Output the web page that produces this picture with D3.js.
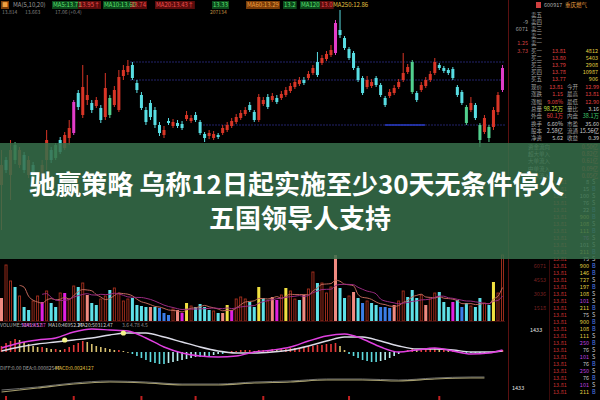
<!DOCTYPE html>
<html><head><meta charset="utf-8">
<script src="https://cdn.jsdelivr.net/npm/d3@7"></script>
<style>html,body{margin:0;padding:0;background:#000;overflow:hidden}</style>
</head><body><svg id="c" width="600" height="400"></svg>
<script>
// ---------- DATA ----------
const opens = [13.15,13.40,13.25,13.55,13.35,13.45,13.25,13.35,13.25,13.20,
13.40,13.50,13.55,13.60,13.52,13.62,13.67,14.07,13.85,14.00,
13.97,13.94,13.92,13.83,14.02,13.95,13.90,14.24,14.28,14.35,
14.17,14.05,13.90,13.97,13.90,13.75,13.65,13.79,13.74,13.77,
13.76,13.81,13.79,13.85,13.78,13.66,13.64,13.62,13.65,13.67,
13.70,13.74,13.78,13.82,13.86,13.95,13.88,13.80,13.96,14.03,
14.00,14.02,14.02,14.05,14.09,14.13,14.16,14.20,14.22,14.27,
14.38,14.37,14.41,14.45,14.47,14.70,14.62,14.51,14.47,14.32,
14.22,14.13,14.14,14.22,14.15,14.02,14.04,14.07,14.13,14.20,
14.28,14.38,14.07,14.10,14.14,14.20,14.27,14.35,14.32,14.30,
14.31,14.13,14.08,13.93,13.90,13.95,13.75,13.68,13.73,13.73,
13.88,14.10];
const closes = [13.35,13.30,13.50,13.40,13.50,13.30,13.40,13.20,13.10,13.35,
13.60,13.40,13.42,13.48,13.65,13.72,13.98,13.93,14.13,14.05,
13.90,14.00,13.80,14.12,13.85,14.10,14.23,14.30,14.34,14.22,
14.10,13.92,13.78,13.83,13.75,13.67,13.70,13.77,13.78,13.74,
13.72,13.85,13.82,13.80,13.67,13.62,13.67,13.66,13.63,13.72,
13.75,13.79,13.83,13.87,13.90,13.90,13.80,14.03,14.00,13.93,
14.04,13.98,14.06,14.10,14.14,14.18,14.20,14.17,14.26,14.32,
14.25,14.42,14.46,14.50,14.77,14.65,14.52,14.42,14.32,14.20,
14.07,14.20,14.18,14.15,14.05,13.95,14.08,14.12,14.18,14.27,
14.33,14.08,14.00,14.15,14.20,14.26,14.38,14.32,14.29,14.27,
14.22,14.05,13.97,13.77,13.97,13.82,13.60,13.82,13.62,13.90,
14.05,14.32];
const highs = [13.50,13.43,13.60,13.58,13.53,13.48,13.44,13.38,13.28,13.40,
13.70,13.53,13.57,13.63,13.68,13.80,14.00,14.10,14.35,14.25,
14.00,14.03,13.95,14.27,14.05,14.14,14.30,14.35,14.40,14.38,
14.20,14.08,13.93,14.00,13.93,13.78,13.74,13.82,13.81,13.80,
13.79,13.89,13.85,13.88,13.80,13.68,13.70,13.69,13.67,13.75,
13.78,13.82,13.86,13.90,13.93,13.98,13.90,14.06,14.03,14.06,
14.07,14.05,14.09,14.13,14.17,14.21,14.23,14.23,14.29,14.35,
14.48,14.45,14.49,14.55,14.80,14.90,14.64,14.53,14.49,14.34,
14.24,14.24,14.21,14.24,14.17,14.04,14.11,14.15,14.21,14.47,
14.36,14.40,14.09,14.18,14.23,14.29,14.42,14.37,14.34,14.32,
14.33,14.15,14.10,13.95,14.03,13.97,13.77,13.85,13.75,13.93,
14.08,14.35];
const lows = [12.70,13.27,13.00,13.36,13.32,13.27,13.22,13.17,13.05,13.17,
13.30,13.37,13.40,13.46,13.50,13.55,13.65,13.90,13.82,13.95,
13.87,13.92,13.77,13.80,13.82,13.93,13.88,14.20,14.25,14.20,
14.07,13.90,13.75,13.80,13.72,13.64,13.62,13.75,13.72,13.72,
13.70,13.79,13.77,13.78,13.65,13.58,13.61,13.60,13.61,13.65,
13.68,13.72,13.76,13.80,13.84,13.88,13.78,13.78,13.94,13.91,
13.98,13.96,14.00,14.03,14.07,14.11,14.14,14.15,14.20,14.25,
14.23,14.35,14.39,14.43,14.45,14.62,14.50,14.40,14.30,14.18,
14.05,14.11,14.12,14.13,14.03,13.93,14.02,14.05,14.11,14.18,
14.26,14.06,13.98,14.08,14.12,14.18,14.25,14.30,14.27,14.25,
14.20,14.03,13.95,13.75,13.88,13.80,13.53,13.66,13.58,13.70,
13.85,14.08];
// u = up, d = down, m = strong up signal, g = strong down signal
const candleKinds = ("udugududdu"+"udgduumduu"+"duduguuuud"+"ddddddudud"+"duuddduudu"+
  "uuuuudduud"+"uduuuuuduu"+"duuumddddd"+"duuddduuuu"+"ugduuuuddd"+"dddgudgugu"+"um").split("");

const volumes = [23,56,40,34,25,14,11,20,25,19,
30,18,14,28,28,22,35,34,38,26,
18,16,22,25,31,33,28,20,22,23,
16,15,14,14,14,13,8,6,12,11,
8,18,15,14,17,14,11,10,8,8,
16,11,22,24,22,19,14,34,23,20,
24,21,26,33,30,22,21,26,32,49,
38,38,28,34,66,33,23,25,29,23,
18,20,18,16,14,14,13,16,20,30,
24,31,23,26,16,22,28,29,19,14,
19,21,14,18,15,14,23,18,16,39,
28,66];
const volumeKinds = ("shhchcchhm"+"hcchmhhchs"+"cchhchhhhc"+"cccscbbbhs"+"myhcccchcs"+
  "ymhhhccych"+"smhyhhcshh"+"chhhscchsc"+"bhccbbbshh"+"ccchshhccc"+"mcbchcchcy"+"hh").split("");

const macdIdx = [0,4,8,12,16,20,24,28,32,36,40,44,48,52,56,60,64,68,72,76,80,84,88,92,96,100,104,108,111];
const difLine = [0.04,0.09,0.12,0.14,0.20,0.23,0.22,0.21,0.14,0.05,-0.01,-0.04,-0.05,-0.04,0.00,0.02,0.05,0.11,0.16,0.18,0.13,0.05,0.00,0.02,0.04,0.01,-0.02,-0.01,0.02];
const deaLine = [0.01,0.05,0.08,0.10,0.12,0.14,0.17,0.19,0.19,0.15,0.10,0.05,0.01,-0.01,-0.01,0.00,0.02,0.06,0.11,0.15,0.15,0.11,0.06,0.03,0.03,0.02,0.00,0.00,0.01];
const macdHist = [0.06,0.09,0.11,0.13,0.12,0.10,0.08,0.06,0.05,0.05,
0.04,0.03,0.03,0.02,0.03,0.05,0.07,0.09,0.11,0.10,
0.08,0.06,0.05,0.04,0.03,0.02,0.02,0.01,0.00,-0.02,
-0.04,-0.06,-0.08,-0.10,-0.11,-0.12,-0.12,-0.11,-0.10,-0.09,
-0.08,-0.07,-0.06,-0.05,-0.05,-0.04,-0.04,-0.03,-0.02,-0.02,
-0.01,0.01,0.01,0.02,0.02,0.02,0.01,0.02,0.02,0.02,
0.03,0.02,0.03,0.03,0.04,0.04,0.04,0.05,0.06,0.06,
0.07,0.07,0.08,0.08,0.09,0.06,0.02,-0.02,-0.04,-0.06,
-0.08,-0.09,-0.10,-0.10,-0.09,-0.08,-0.06,-0.04,-0.02,0.01,
0.02,0.03,0.02,0.03,0.03,0.03,0.04,0.03,0.03,0.02,
0.02,0.01,0.00,-0.01,-0.01,-0.01,-0.02,-0.01,-0.01,0.00,
0.01,0.02];
const crossIdx = [14, 27];
const crossVal = [0.12, 0.19];

const lowerIdx = [0,8,16,24,32,40,48,56,64,72,80,88,96,104,107];
const lowerLineA = [3,7,11,13,12,10,10,12,13,15,15,14,16,17,17];
const lowerLineB = [5,8,12,14,13,11,11,13,14,16,16,15,17,18,18];

const refLevels = [14.38, 14.20, 13.75];
const dateTickIdx = [1, 16, 31, 43, 58, 77, 97];

const headerTexts = ["■","MA(5,10,20)","MA5:13.71","13.95↑","MA10:13.60","13.74","MA20:13.43↑","13.33","MA60:13.29","13.2","MA120","13.0","MA250:12.86"];
const headerKinds = ["o","gray","g","r","g","r","r","g","o","g","g","r","y"];
const subTexts = ["13.814","13.663","17.06 (+0.4)","207134"];

const bookLabels = ["卖五","卖四","卖三","卖二","卖一","买一","买二","买三","买四","买五"];
const bookPrices = ["","","","","","13.81","13.80","13.79","13.78","13.77"];
const bookVols = ["","","","","","4812","5403","2908","10987","906"];
const bookSide = ["","-9","6071","","1.25","3.73","","","",""];
const statLabelsA = ["现价","涨跌","涨幅","总量","外盘","换手","股本","净资"];
const statValuesA = ["13.81","1.15","9.08%","98.25万","60.1万","6.60%","2.58亿","5.62"];
const statLabelsB = ["今开","最高","最低","量比","内盘","市盈","流通","收益"];
const statValuesB = ["12.99","13.81","12.90","3.16","38.1万","35.60","15.56亿","0.39"];
const flowLabels = ["资金流向","超大单入","大单流入","中单流入","小单流入"];
const flowValues = ["0.50亿","0.82亿","0.61亿","0.09亿","0.05亿"];
const tickerVol = [8,15,100,76,22,900,108,111,76,101,211,75,900,146,727,197,108,101,211,75,900,108,111,250,76,101,76,250,76,101,211];
const tickerSide = ("SBSSBBSBSS"+"BSBBSBSSBS"+"BBSBSSBSBS"+"B").split("");
const tickerKind = "wwwwwyyypwywyyyyypywyyypwpwpwpy".split("");
const volAxisLabels = ["6071","4553","3036","1518"];

const titleLine1 = "驰赢策略 乌称12日起实施至少30天无条件停火";
const titleLine2 = "五国领导人支持";

// ---------- DRAW ----------
const FONT = "'Noto Sans CJK SC','Noto Sans',sans-serif";
const svg = d3.select("#c");
svg.append("rect").attr("width",600).attr("height",400).attr("fill","#000");
const n = opens.length;
const x = d3.scaleBand().domain(d3.range(n)).range([0,504]).paddingInner(0.33).paddingOuter(0);
const bw = x.bandwidth();
const cx = i => x(i) + bw/2;
const y = d3.scaleLinear().domain([14.85,12.42]).range([15,258]);
const yv = d3.scaleLinear().domain([0,60]).range([321,261]);
const ym = d3.scaleLinear().domain([0.25,-0.15]).range([327,367]);
const yb = d3.scaleLinear().domain([0,30]).range([395,365]);

// header
const hdrX = [1,12,52,78,103,130,155,212,246,283,300,320,332];
const hdrCol = {o:["#7a3c08","#f0a040"],gray:[null,"#9a9a9a"],g:["#0c4a1c","#5ae070"],r:["#5a0c0c","#f05050"],y:[null,"#e0c040"]};
const hg = svg.append("g").attr("font-family",FONT).attr("font-size",6);
headerTexts.forEach((t,k)=>{
  const c = hdrCol[headerKinds[k]];
  const tx = hg.append("text").attr("x",hdrX[k]+1).attr("y",7).attr("fill",c[1]).text(t);
  if (c[0]) {
    const w = tx.node().getComputedTextLength();
    hg.insert("rect","text").attr("x",hdrX[k]).attr("y",1).attr("width",w+2).attr("height",8).attr("fill",c[0]);
  }
});
const subX = [2,25,55,210];
subTexts.forEach((t,k)=>{
  hg.append("text").attr("x",subX[k]).attr("y",14).attr("font-size",5)
    .attr("fill", k===3 ? "#c09040" : "#808080").text(t);
});

// reference levels
const gMain = svg.append("g");
refLevels.forEach((p,k)=>{
  gMain.append("line").attr("x1",k===2?200:130).attr("x2",505).attr("y1",y(p)).attr("y2",y(p))
    .attr("stroke","#22226a").attr("stroke-width",1).attr("stroke-dasharray","2,1");
});
gMain.append("line").attr("x1",385).attr("x2",425).attr("y1",y(refLevels[2])).attr("y2",y(refLevels[2]))
  .attr("stroke","#2a3cc8").attr("stroke-width",1.5);

// candles
const cCol = {u:"#d83526",d:"#58dde2",m:"#e23cc8",g:"#52d08e"};
const cg = gMain.append("g");
d3.range(n).forEach(i=>{
  const col = cCol[candleKinds[i]];
  cg.append("rect").attr("x",cx(i)-0.5).attr("width",1)
    .attr("y",y(highs[i])).attr("height",Math.max(1,y(lows[i])-y(highs[i]))).attr("fill",col);
  const top = y(Math.max(opens[i],closes[i])), bot = y(Math.min(opens[i],closes[i]));
  cg.append("rect").attr("x",x(i)).attr("width",bw).attr("y",top).attr("height",Math.max(1.5,bot-top)).attr("fill",col);
});

// volume
const vCol = {s:"#f08a80",c:"#5ee0e8",m:"#e020e0",y:"#f0e040",b:"#3a7ee8"};
const vg = svg.append("g");
d3.range(n).forEach(i=>{
  const k = volumeKinds[i];
  if (k==="h") {
    vg.append("rect").attr("x",x(i)+0.5).attr("width",bw-1).attr("y",yv(volumes[i])).attr("height",yv(0)-yv(volumes[i]))
      .attr("fill","none").attr("stroke","#a8301e").attr("stroke-width",0.9);
  } else {
    vg.append("rect").attr("x",x(i)).attr("width",bw).attr("y",yv(volumes[i])).attr("height",yv(0)-yv(volumes[i]))
      .attr("fill",vCol[k]);
  }
});
const ma = p => d3.range(n).map(i => i < p-1 ? null : d3.mean(volumes.slice(i-p+1,i+1)));
const ma5 = ma(5), ma10 = ma(10);
const volLine = d3.line().defined(d=>d[1]!=null).x(d=>cx(d[0])).y(d=>yv(d[1])).curve(d3.curveMonotoneX);
vg.append("path").attr("d",volLine(ma5.map((v,i)=>[i,v]))).attr("fill","none").attr("stroke","#c0685a").attr("stroke-width",1);
vg.append("path").attr("d",volLine(ma10.map((v,i)=>[i,v]))).attr("fill","none").attr("stroke","#9a2a80").attr("stroke-width",1);
vg.append("line").attr("x1",0).attr("x2",505).attr("y1",yv(0)+0.5).attr("y2",yv(0)+0.5).attr("stroke","#3a0c0c");

const lg = svg.append("g").attr("font-family",FONT).attr("font-size",5);
[["VOLUME:52419.57",0,"#b0b0b0"],["MA5:43.87",22,"#e040e0"],["MA10:46952.27",48,"#d0d0d0"],["MA20:50312.47",78,"#d0d0d0"],["3.6  4.78  4.5",122,"#909090"]]
  .forEach(d=>lg.append("text").attr("x",d[1]).attr("y",327).attr("fill",d[2]).text(d[0]));
[["DIFF:0.00  DEA:0.00082547",0,"#a0a0a0"],["MACD:0.0024127",55,"#e0c040"]]
  .forEach(d=>lg.append("text").attr("x",d[1]).attr("y",370).attr("fill",d[2]).text(d[0]));

// MACD
const mg = svg.append("g");
macdHist.forEach((v,i)=>{
  const prev = i>0 ? macdHist[i-1] : 0;
  let col;
  if (v>=0) col = v>=prev ? "#e83a3a" : "#d8c070"; else col = v<=prev ? "#5edce0" : "#b8f0f0";
  mg.append("rect").attr("x",cx(i)-0.8).attr("width",1.6)
    .attr("y",Math.min(ym(0),ym(v))).attr("height",Math.max(0.8,Math.abs(ym(v)-ym(0)))).attr("fill",col);
});
const mLine = d3.line().x(d=>cx(d[0])).y(d=>ym(d[1])).curve(d3.curveMonotoneX);
mg.append("path").attr("d",mLine(macdIdx.map((k,j)=>[k,deaLine[j]]))).attr("fill","none").attr("stroke","#dcdce8").attr("stroke-width",1.4);
mg.append("path").attr("d",mLine(macdIdx.map((k,j)=>[k,difLine[j]]))).attr("fill","none").attr("stroke","#e040e0").attr("stroke-width",1.4);
crossIdx.forEach((k,j)=>mg.append("circle").attr("cx",cx(k)).attr("cy",ym(crossVal[j])).attr("r",2.6).attr("fill","#f4f48a"));

// lower indicator
const bLine = d3.line().x(d=>cx(d[0])).y(d=>yb(d[1])).curve(d3.curveMonotoneX);
svg.append("path").attr("d",bLine(lowerIdx.map((k,j)=>[k,lowerLineB[j]]))).attr("fill","none").attr("stroke","#707070").attr("stroke-width",1);
svg.append("path").attr("d",bLine(lowerIdx.map((k,j)=>[k,lowerLineA[j]]))).attr("fill","none").attr("stroke","#a8a070").attr("stroke-width",1.2);
dateTickIdx.forEach(k=>svg.append("rect").attr("x",cx(k)-1).attr("y",396).attr("width",2).attr("height",4).attr("fill","#c02020"));

// right panel
const rp = svg.append("g").attr("font-family",FONT).attr("font-size",5.5);
rp.append("line").attr("x1",508.5).attr("x2",508.5).attr("y1",0).attr("y2",400).attr("stroke","#5a1010");
rp.append("line").attr("x1",549.5).attr("x2",549.5).attr("y1",260).attr("y2",400).attr("stroke","#3a0a0a");
rp.append("rect").attr("x",536).attr("y",2).attr("width",5).attr("height",6).attr("fill","#d04040");
rp.append("text").attr("x",544).attr("y",7).attr("fill","#b0b0b0").text("600917");
rp.append("text").attr("x",565).attr("y",7).attr("fill","#f0a040").text("重庆燃气");
const rowY = d3.range(10).map(k=>15+k*7.1);
bookLabels.forEach((t,k)=>{
  rp.append("text").attr("x",531).attr("y",rowY[k]+2).attr("fill","#a0a0a0").text(t);
  if (bookPrices[k]) rp.append("text").attr("x",552).attr("y",rowY[k]+2).attr("fill","#e04040").text(bookPrices[k]);
  if (bookVols[k]) rp.append("text").attr("x",598).attr("y",rowY[k]+2).attr("text-anchor","end").attr("fill","#e0d040").text(bookVols[k]);
  if (bookSide[k]) rp.append("text").attr("x",528).attr("y",rowY[k]+2).attr("text-anchor","end").attr("fill",k<3?"#a0a0a0":"#d04040").text(bookSide[k]);
});
const statY = d3.range(8).map(k=>87+k*7.3);
statLabelsA.forEach((t,k)=>{
  rp.append("text").attr("x",531).attr("y",statY[k]+2).attr("fill","#a0a0a0").text(t);
  rp.append("text").attr("x",563).attr("y",statY[k]+2).attr("text-anchor","end").attr("fill",k===3?"#d0e040":(k<5?"#e04040":"#d0d0d0")).text(statValuesA[k]);
  rp.append("text").attr("x",567).attr("y",statY[k]+2).attr("fill","#a0a0a0").text(statLabelsB[k]);
  rp.append("text").attr("x",599).attr("y",statY[k]+2).attr("text-anchor","end").attr("fill",k===4?"#40d070":(k<3?"#e04040":"#d0d0d0")).text(statValuesB[k]);
});
flowLabels.forEach((t,k)=>{
  rp.append("text").attr("x",528).attr("y",149+k*7.2).attr("fill","#c0c0c0").text(t);
  rp.append("text").attr("x",598).attr("y",149+k*7.2).attr("text-anchor","end").attr("fill","#e04040").text(flowValues[k]);
});
const tkCol = {w:"#d0d0d0",y:"#e0d040",p:"#c040e0"};
tickerVol.forEach((v,k)=>{
  const ty = 184 + k*7.0;
  rp.append("text").attr("x",553).attr("y",ty).attr("fill","#c83030").text("13.81");
  rp.append("text").attr("x",589).attr("y",ty).attr("text-anchor","end").attr("fill",tkCol[tickerKind[k]]).text(v);
  rp.append("text").attr("x",592).attr("y",ty).attr("fill",tickerSide[k]==="B"?"#5080f0":"#d0d0d0").text(tickerSide[k]);
});
volAxisLabels.forEach((t,k)=>rp.append("text").attr("x",546).attr("y",yv(55-k*14)+2).attr("text-anchor","end").attr("fill","#7a2020").text(t));
rp.append("text").attr("x",530).attr("y",332).attr("fill","#e0e0e0").text("1433");
rp.append("text").attr("x",512).attr("y",390).attr("fill","#e0e0e0").text("1433");

// banner overlay
svg.append("rect").attr("x",0).attr("y",143).attr("width",600).attr("height",116)
  .attr("fill","#376f4b").attr("opacity",0.86);
const tg = svg.append("g").attr("font-family",FONT).attr("font-weight",700).attr("font-size",26)
  .attr("fill","#ffffff").attr("text-anchor","middle");
tg.append("text").attr("x",297).attr("y",194).text(titleLine1);
tg.append("text").attr("x",300).attr("y",228).text(titleLine2);
</script>
</body></html>
